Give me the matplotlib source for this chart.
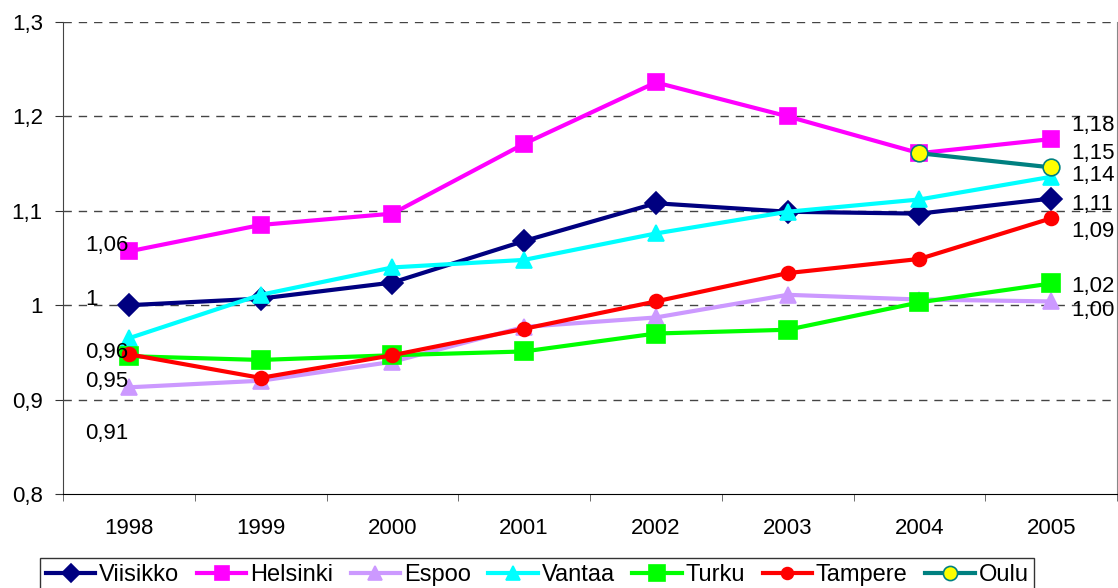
import matplotlib.pyplot as plt

plt.rcParams['font.family'] = ['Liberation Sans', 'DejaVu Sans']

# data
years = ['1998', '1999', '2000', '2001', '2002', '2003', '2004', '2005']
viisikko = [1.000, 1.007, 1.024, 1.068, 1.108, 1.099, 1.097, 1.113]
helsinki = [1.057, 1.085, 1.097, 1.171, 1.236, 1.200, 1.161, 1.176]
espoo = [0.913, 0.920, 0.940, 0.977, 0.987, 1.011, 1.006, 1.004]
vantaa = [0.965, 1.011, 1.040, 1.048, 1.076, 1.099, 1.112, 1.136]
turku = [0.946, 0.942, 0.947, 0.951, 0.970, 0.974, 1.003, 1.023]
tampere = [0.948, 0.923, 0.947, 0.975, 1.004, 1.034, 1.049, 1.092]
oulu = [None, None, None, None, None, None, 1.161, 1.146]

series = [
    ('Viisikko', viisikko, '#000080', 'D', '#000080', '#000080', 11),
    ('Helsinki', helsinki, '#FF00FF', 's', '#FF00FF', '#FF00FF', 12),
    ('Espoo', espoo, '#CC99FF', '^', '#CC99FF', '#CC99FF', 12),
    ('Vantaa', vantaa, '#00FFFF', '^', '#00FFFF', '#00FFFF', 12),
    ('Turku', turku, '#00FF00', 's', '#00FF00', '#00FF00', 13),
    ('Tampere', tampere, '#FF0000', 'o', '#FF0000', '#FF0000', 10),
    ('Oulu', oulu, '#008080', 'o', '#FFFF00', '#008080', 12),
]

# which series get value labels at the ends, with pixel offsets
left_labels = [('Helsinki', -6), ('Viisikko', -6), ('Vantaa', 14), ('Turku', 25), ('Espoo', 46)]
right_labels = [('Helsinki', -14), ('Oulu', -14), ('Vantaa', -1), ('Viisikko', 6),
                ('Tampere', 13), ('Turku', 3), ('Espoo', 9)]


def fmt(v):
    return ('%.2f' % v).replace('.', ',')


fig = plt.figure(figsize=(11.18, 5.88), dpi=100)
ax = fig.add_axes([63 / 1118, 1 - 494 / 588, 1054 / 1118, 472 / 588])

x = list(range(len(years)))
handles = []
for name, vals, col, mk, fc, ec, ms in series:
    xs = [i for i, v in zip(x, vals) if v is not None]
    ys = [v for v in vals if v is not None]
    h, = ax.plot(xs, ys, color=col, lw=3, marker=mk, markersize=ms,
                 markerfacecolor=fc, markeredgecolor=ec, markeredgewidth=1.2,
                 label=name, zorder=3, clip_on=False)
    handles.append(h)

data = {s[0]: s[1] for s in series}
for name, off in left_labels:
    v = data[name][0]
    label = '1' if name == 'Viisikko' else fmt(v)
    ax.annotate(label, (0, v), xytext=(-44, -off), textcoords='offset pixels',
                ha='left', va='center', fontsize=16, zorder=4)
for name, off in right_labels:
    v = data[name][-1]
    ax.annotate(fmt(v), (7, v), xytext=(20, -off), textcoords='offset pixels',
                ha='left', va='center', fontsize=16, zorder=4, annotation_clip=False)

ax.set_xlim(-0.5, 7.5)
ax.set_ylim(0.8, 1.3)
yt = [0.8, 0.9, 1.0, 1.1, 1.2, 1.3]
ax.set_yticks(yt)
ax.set_yticklabels(['0,8', '0,9', '1', '1,1', '1,2', '1,3'], fontsize=16)
ax.set_xticks(x)
ax.set_xticklabels(years, fontsize=16)
ax.set_xticks([i + 0.5 for i in range(-1, 8)], minor=True)
ax.tick_params(axis='x', which='major', length=0, pad=17)
ax.tick_params(axis='x', which='minor', length=5, color='#555555')
ax.tick_params(axis='y', length=5.5, color='#333333', pad=9)

for v in yt[1:]:
    ax.axhline(v, color='#444444', lw=1, ls=(0, (6, 5)), zorder=1)

ax.spines['top'].set_visible(False)
ax.spines['left'].set_color('#444444')
ax.spines['right'].set_color('#888888')
ax.spines['bottom'].set_color('black')

leg = fig.legend(handles=handles, loc='upper left', bbox_to_anchor=(40 / 1118, 1 - 558 / 588),
                 ncol=7, fontsize=17, frameon=True, fancybox=False, edgecolor='black',
                 handlelength=2.1, handletextpad=0.15, columnspacing=0.75,
                 borderpad=0.25, borderaxespad=0, markerscale=0.85)
leg.get_frame().set_linewidth(1)

fig.savefig('out.png', dpi=100)
